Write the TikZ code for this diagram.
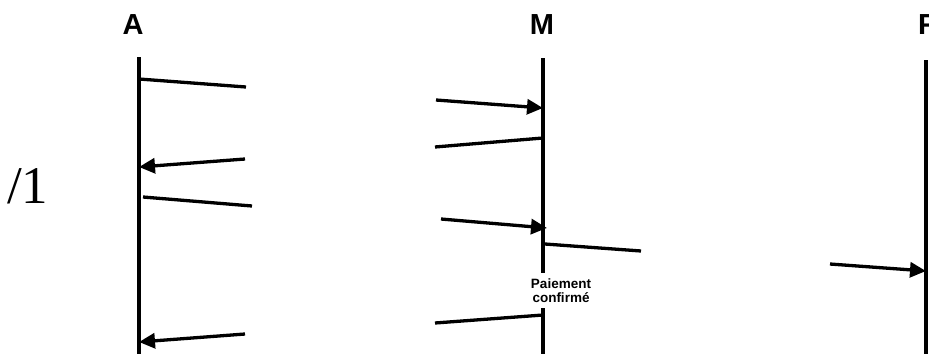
\documentclass[tikz,border=0pt]{standalone}
\usepackage{fontspec}
\setmainfont{Liberation Sans}
\newfontfamily\serifface{Liberation Serif}
\usetikzlibrary{arrows.meta}
\begin{document}
\begin{tikzpicture}[x=1pt,y=-1pt,
  lifeline/.style={line width=3.3pt},
  msg/.style={line width=3.3pt},
  msgarrow/.style={msg,-{Triangle[length=16pt,width=15pt]}},
  actor/.style={font=\fontsize{29}{29}\selectfont\bfseries,inner sep=0pt,anchor=base},
  note/.style={font=\fontsize{13.5}{14.5}\selectfont\bfseries,fill=white,align=center,
    inner xsep=3pt,inner ysep=5pt},
  mark label/.style={font=\serifface\fontsize{53}{53}\selectfont,inner sep=0pt,anchor=base west}
]
\useasboundingbox (0,0) rectangle (929,354);

% actors
\node[actor] (labA) at (133,34) {A};
\node[actor] (labM) at (542,34) {M};
\node[actor,anchor=base west] (labF) at (918,34) {F};
\node[mark label] (mark) at (7,203) {/1};

% lifelines
\coordinate (Atop) at (139,57);  \coordinate (Abot) at (139,354);
\coordinate (Mtop) at (543,58);  \coordinate (Mbot) at (543,354);
\coordinate (Ftop) at (926,60);  \coordinate (Fbot) at (926,354);
\draw[lifeline] (Atop) -- (Abot);
\draw[lifeline] (Mtop) -- (Mbot);
\draw[lifeline] (Ftop) -- (Fbot);

% message end points
\coordinate (a1) at (139,79);  \coordinate (e1) at (246,87);
\coordinate (s2) at (436,100); \coordinate (m2) at (543,108);
\coordinate (m3) at (543,138); \coordinate (e3) at (435,147);
\coordinate (s4) at (245,159); \coordinate (a4) at (139,167);
\coordinate (a5) at (143,197); \coordinate (e5) at (252,206);
\coordinate (s6) at (441,219); \coordinate (m6) at (547,228);
\coordinate (m7) at (545,244); \coordinate (e7) at (641,251);
\coordinate (m9) at (543,315); \coordinate (e9) at (435,323);
\coordinate (s10) at (245,334); \coordinate (a10) at (139,342);
\coordinate (s11) at (830,264); \coordinate (f11) at (926,271);

% messages
\draw[msg] (a1) -- (e1);
\draw[msgarrow] (s2) -- (m2);
\draw[msg] (m3) -- (e3);
\draw[msgarrow] (s4) -- (a4);
\draw[msg] (a5) -- (e5);
\draw[msgarrow] (s6) -- (m6);
\draw[msg] (m7) -- (e7);
\draw[msg] (m9) -- (e9);
\draw[msgarrow] (s10) -- (a10);
\draw[msgarrow] (s11) -- (f11);

% note over the M lifeline
\node[note] (paid) at (561,290.5) {Paiement\\confirmé};
\end{tikzpicture}
\end{document}
